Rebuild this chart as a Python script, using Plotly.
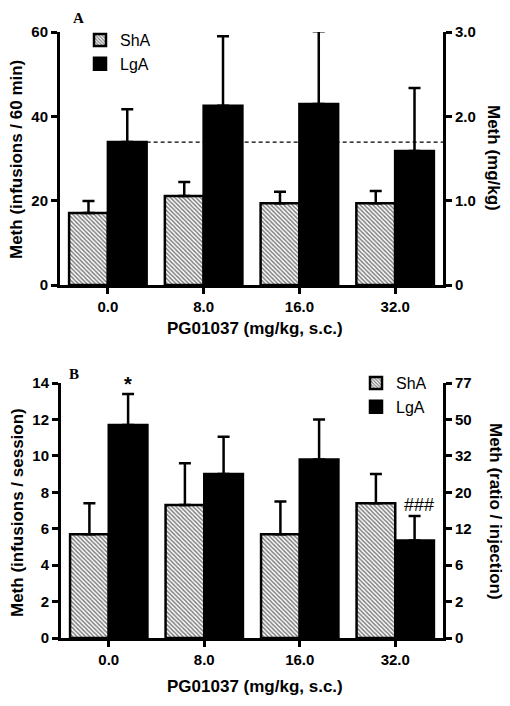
import plotly.graph_objects as go

# ---------------- data ----------------
doses = ["0.0", "8.0", "16.0", "32.0"]
series_names = ["ShA", "LgA"]

# Panel A: infusions / 60 min
shA_A = [17.1, 21.1, 19.4, 19.4]
shA_A_err = [2.8, 3.3, 2.7, 2.9]
lgA_A = [33.9, 42.5, 42.9, 31.8]
lgA_A_err = [7.8, 16.5, 17.3, 14.9]

# Panel B: infusions / session
shA_B = [5.7, 7.3, 5.7, 7.4]
shA_B_err = [1.7, 2.3, 1.8, 1.6]
lgA_B = [11.7, 9.0, 9.8, 5.35]
lgA_B_err = [1.7, 2.05, 2.2, 1.35]

# axis ticks
left_A_ticks = [0, 20, 40, 60]
right_A_ticks = [0, 1, 2, 3]
right_A_labels = ["0", "1.0", "2.0", "3.0"]
left_B_ticks = [0, 2, 4, 6, 8, 10, 12, 14]
right_B_labels = ["0", "2", "6", "12", "20", "32", "50", "77"]

x_idx = list(range(len(doses)))
BARGAP = 0.19

W, H = 510, 706
FONT = "Liberation Sans, Arial, sans-serif"
SERIF = "Liberation Serif, Times New Roman, serif"

def px_x(p):
    return p / W

def px_y(p):
    return 1 - p / H

hatch = dict(shape="\\", fgcolor="black", bgcolor="white", size=3, solidity=0.5)

def err(a):
    return dict(type="data", symmetric=False, array=a, arrayminus=[0] * len(a),
                color="black", thickness=2.5, width=6)

fig = go.Figure()

fig.add_trace(go.Bar(x=x_idx, y=shA_A, name=series_names[0], xaxis="x", yaxis="y",
                     marker=dict(color="white", pattern=hatch, line=dict(color="black", width=2.5)),
                     error_y=err(shA_A_err), legend="legend"))
fig.add_trace(go.Bar(x=x_idx, y=lgA_A, name=series_names[1], xaxis="x", yaxis="y",
                     marker=dict(color="black", line=dict(color="black", width=2.5)),
                     error_y=err(lgA_A_err), legend="legend"))
fig.add_trace(go.Bar(x=x_idx, y=shA_B, name=series_names[0], xaxis="x2", yaxis="y3",
                     marker=dict(color="white", pattern=hatch, line=dict(color="black", width=2.5)),
                     error_y=err(shA_B_err), legend="legend2"))
fig.add_trace(go.Bar(x=x_idx, y=lgA_B, name=series_names[1], xaxis="x2", yaxis="y3",
                     marker=dict(color="black", line=dict(color="black", width=2.5)),
                     error_y=err(lgA_B_err), legend="legend2"))
# empty traces so the right-hand axes get drawn
fig.add_trace(go.Scatter(x=[None], y=[None], xaxis="x", yaxis="y2", mode="markers",
                         showlegend=False, hoverinfo="skip"))
fig.add_trace(go.Scatter(x=[None], y=[None], xaxis="x2", yaxis="y4", mode="markers",
                         showlegend=False, hoverinfo="skip"))

tickfont = dict(family=FONT, size=15, color="black", weight="bold")
axis_common = dict(showline=True, linecolor="black", linewidth=3, ticks="outside",
                   ticklen=6, tickwidth=3, tickcolor="black", showgrid=False,
                   zeroline=False, tickfont=tickfont, automargin=False, fixedrange=True)

fig.update_layout(
    width=W, height=H,
    margin=dict(l=0, r=0, t=0, b=0),
    paper_bgcolor="white", plot_bgcolor="white",
    barmode="group", bargap=BARGAP, bargroupgap=0,
    xaxis=dict(domain=[px_x(60), px_x(443)], anchor="y", range=[-0.5, 3.5],
               tickvals=x_idx, ticktext=doses, **axis_common),
    yaxis=dict(domain=[px_y(285), px_y(32)], anchor="x", range=[0, 60],
               tickvals=left_A_ticks, **axis_common),
    yaxis2=dict(overlaying="y", side="right", anchor="x", range=[0, 3],
                tickvals=right_A_ticks, ticktext=right_A_labels, **axis_common),
    xaxis2=dict(domain=[px_x(61), px_x(443)], anchor="y3", range=[-0.5, 3.5],
                tickvals=x_idx, ticktext=doses, **axis_common),
    yaxis3=dict(domain=[px_y(638), px_y(383)], anchor="x2", range=[0, 14],
                tickvals=left_B_ticks, **axis_common),
    yaxis4=dict(overlaying="y3", side="right", anchor="x2", range=[0, 14],
                tickvals=left_B_ticks, ticktext=right_B_labels, **axis_common),
    legend=dict(x=px_x(80), y=px_y(23), xanchor="left", yanchor="top",
                font=dict(family=FONT, size=16, color="black"),
                bgcolor="rgba(0,0,0,0)", tracegroupgap=0),
    legend2=dict(x=px_x(356), y=px_y(366), xanchor="left", yanchor="top",
                 font=dict(family=FONT, size=16, color="black"),
                 bgcolor="rgba(0,0,0,0)", tracegroupgap=0),
    showlegend=True,
)

# dashed reference line at the LgA vehicle level (panel A)
fig.add_shape(type="line", xref="x", yref="y",
              x0=(1 - BARGAP) / 2, x1=3.5, y0=lgA_A[0], y1=lgA_A[0],
              line=dict(color="black", width=1.2, dash="4px,3px"))

title_font = dict(family=FONT, size=17, color="black", weight="bold")
annots = [
    dict(text="Meth (infusions / 60 min)", x=px_x(16), y=px_y(160), textangle=-90),
    dict(text="Meth (mg/kg)", x=px_x(494), y=px_y(158), textangle=90),
    dict(text="PG01037 (mg/kg, s.c.)", x=px_x(255), y=px_y(328), textangle=0),
    dict(text="Meth (infusions / session)", x=px_x(17), y=px_y(513), textangle=-90),
    dict(text="Meth (ratio / injection)", x=px_x(495), y=px_y(511), textangle=90),
    dict(text="PG01037 (mg/kg, s.c.)", x=px_x(255), y=px_y(686), textangle=0),
]
for a in annots:
    fig.add_annotation(xref="paper", yref="paper", showarrow=False,
                       xanchor="center", yanchor="middle", font=title_font, **a)

panel_font = dict(family=SERIF, size=15, color="black", weight="bold")
fig.add_annotation(text="A", xref="paper", yref="paper", x=px_x(78), y=px_y(18),
                   xanchor="center", yanchor="middle", showarrow=False, font=panel_font)
fig.add_annotation(text="B", xref="paper", yref="paper", x=px_x(74), y=px_y(374),
                   xanchor="center", yanchor="middle", showarrow=False, font=panel_font)

# significance marks
lga_offset = (1 - BARGAP) / 4
fig.add_annotation(text="*", xref="x2", yref="y3", x=0 + lga_offset,
                   y=lgA_B[0] + lgA_B_err[0], xanchor="center", yanchor="bottom",
                   yshift=-3, showarrow=False,
                   font=dict(family=FONT, size=20, color="black", weight="bold"))
fig.add_annotation(text="###", xref="x2", yref="y3", x=3 + lga_offset,
                   y=lgA_B[3] + lgA_B_err[3], xanchor="center", yanchor="bottom",
                   xshift=4, yshift=-1, showarrow=False,
                   font=dict(family=FONT, size=18, color="black"))

fig.write_html("out.html", config={"displayModeBar": False},
               post_script="document.body.style.margin='0';document.body.style.padding='0';")
